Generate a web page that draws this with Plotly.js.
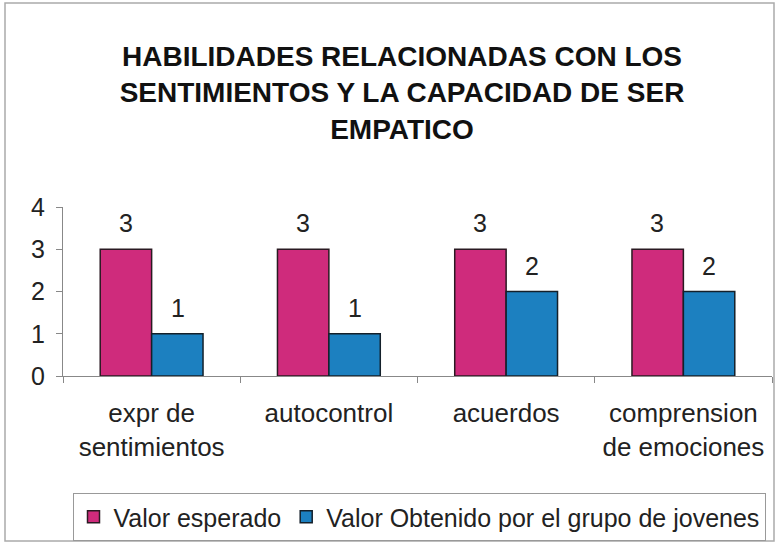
<!DOCTYPE html>
<html>
<head>
<meta charset="utf-8">
<script src="https://cdn.plot.ly/plotly-3.0.1.min.js"></script>
<style>
html,body{margin:0;padding:0;background:#fff;}
#chart{width:778px;height:544px;}
</style>
</head>
<body>
<div id="chart"></div>
<script>
const categories = ["expr de<br>sentimientos", "autocontrol", "acuerdos", "comprension<br>de emociones"];
const seriesNames = ["Valor esperado", "Valor Obtenido por el grupo de jovenes"];
const expected = [3, 3, 3, 3];
const obtained = [1, 1, 2, 2];
const yTicks = [0, 1, 2, 3, 4];

const FONT = "Liberation Sans, Arial, sans-serif";
const L = 63, R = 6, T = 207, B = 168, W = 778, H = 544;
const pw = W - L - R, ph = H - T - B;
const px = v => (v - L) / pw;
const py = v => (H - B - v) / ph;

const traces = [
  {type: "bar", name: seriesNames[0], x: categories, y: expected,
   marker: {color: "#cf2b7c", line: {color: "#2a1a22", width: 1.5}}, hoverinfo: "none"},
  {type: "bar", name: seriesNames[1], x: categories, y: obtained,
   marker: {color: "#1c80c0", line: {color: "#14202a", width: 1.5}}, hoverinfo: "none"}
];

const annotations = [];
categories.forEach((c, i) => {
  annotations.push({x: c, y: expected[i], xref: "x", yref: "y", text: String(expected[i]),
    showarrow: false, yanchor: "bottom", xshift: -26, yshift: 10,
    font: {family: FONT, size: 25, color: "#222"}});
  annotations.push({x: c, y: obtained[i], xref: "x", yref: "y", text: String(obtained[i]),
    showarrow: false, yanchor: "bottom", xshift: 26, yshift: 10,
    font: {family: FONT, size: 25, color: "#222"}});
});

const layout = {
  width: W, height: H,
  margin: {l: L, r: R, t: T, b: B},
  paper_bgcolor: "#ffffff", plot_bgcolor: "rgba(0,0,0,0)",
  title: {
    text: "<b>HABILIDADES RELACIONADAS CON LOS<br>SENTIMIENTOS Y LA CAPACIDAD DE SER<br>EMPATICO</b>",
    font: {family: FONT, size: 28, color: "#111"},
    x: 402 / W, xanchor: "center", xref: "container",
    y: 1 - 66 / H, yanchor: "top", yref: "container"
  },
  barmode: "group", bargap: 0.42, bargroupgap: 0,
  showlegend: true,
  legend: {orientation: "h", xref: "container", yref: "container",
    x: 419 / W, xanchor: "center", y: 1 - 517 / H, yanchor: "middle",
    bgcolor: "#fff", bordercolor: "#999", borderwidth: 1,
    font: {family: FONT, size: 25, color: "#222"},
    itemwidth: 30, traceorder: "normal"},
  xaxis: {type: "category", showgrid: false, zeroline: false,
    showline: true, linecolor: "#888", linewidth: 1,
    ticks: "outside", tickson: "boundaries", ticklen: 6, tickcolor: "#888",
    tickfont: {family: FONT, size: 26, color: "#222"}, ticklabelstandoff: 14},
  yaxis: {range: [0, 4], tickvals: yTicks, showgrid: false, zeroline: false,
    showline: true, linecolor: "#888", linewidth: 1,
    ticks: "outside", ticklen: 6, tickcolor: "#888",
    tickfont: {family: FONT, size: 25, color: "#222"}, ticklabelstandoff: 6},
  annotations: annotations,
  shapes: [
    {type: "rect", xref: "paper", yref: "paper",
     x0: px(5), x1: px(774), y0: py(541), y1: py(3),
     line: {color: "#aaa", width: 1.5}, fillcolor: "rgba(0,0,0,0)", layer: "below"}
  ]
};

Plotly.newPlot("chart", traces, layout, {displayModeBar: false, staticPlot: true});
</script>
</body>
</html>
